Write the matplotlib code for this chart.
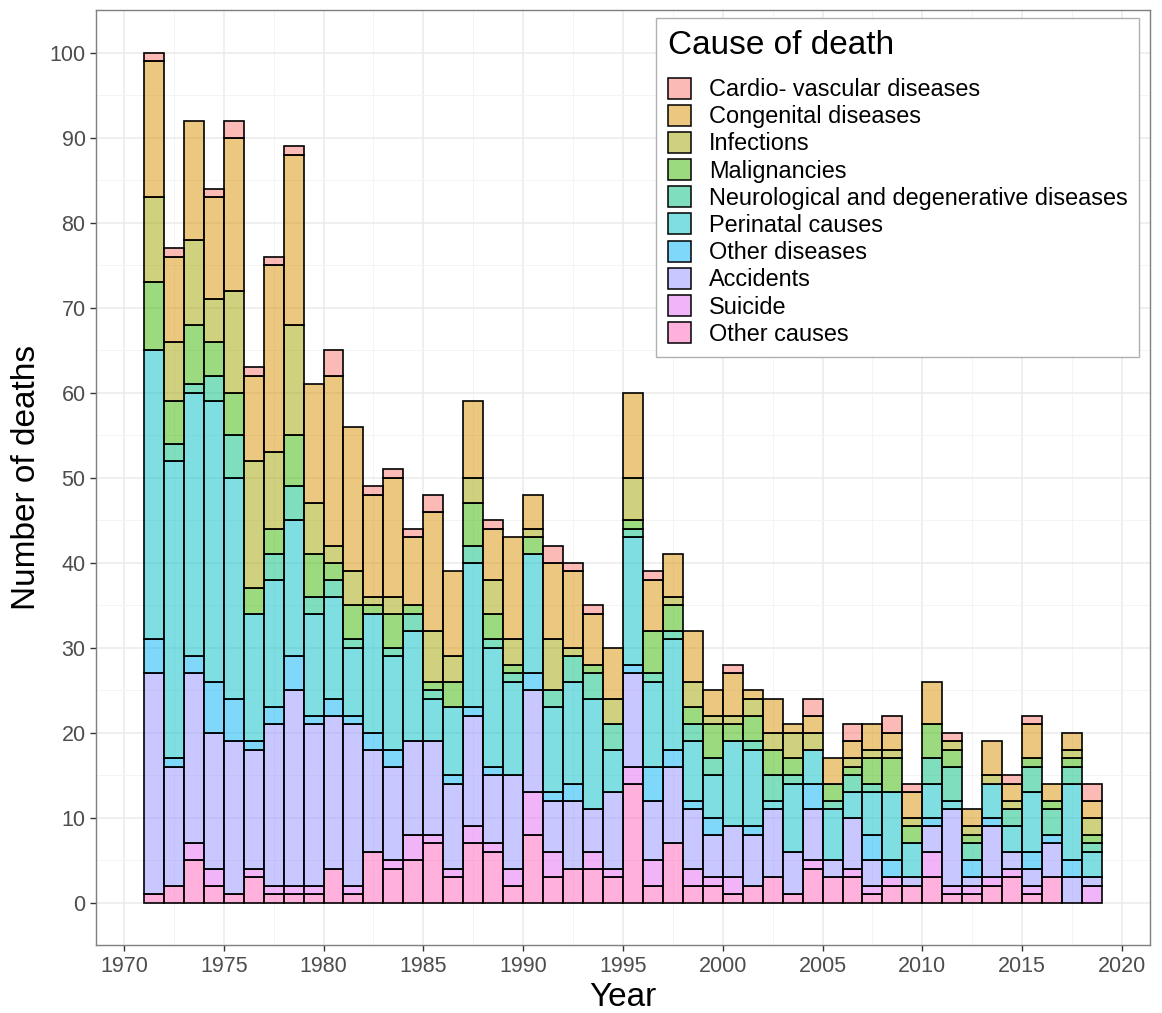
import numpy as np
import matplotlib
matplotlib.use("Agg")
import matplotlib.pyplot as plt
from matplotlib.patches import Patch
from matplotlib.ticker import MultipleLocator

plt.rcParams['font.family'] = ['Liberation Sans', 'DejaVu Sans']

years = list(range(1971, 2019))

causes = ["Cardio- vascular diseases", "Congenital diseases", "Infections", "Malignancies",
          "Neurological and degenerative diseases", "Perinatal causes", "Other diseases",
          "Accidents", "Suicide", "Other causes"]

cardio = [1, 1, 0, 1, 2, 1, 1, 1, 0, 3,
          0, 1, 1, 1, 2, 0, 0, 1, 0, 0,
          2, 1, 1, 0, 0, 1, 0, 0, 0, 1,
          0, 0, 0, 2, 0, 2, 0, 2, 1, 0,
          1, 0, 0, 1, 1, 0, 0, 2]
congenital = [16, 10, 14, 12, 18, 10, 22, 20, 14, 20,
              17, 12, 14, 8, 14, 10, 9, 6, 12, 4,
              9, 9, 6, 6, 10, 6, 5, 6, 3, 5,
              1, 4, 1, 2, 3, 2, 3, 2, 3, 5,
              0, 2, 4, 2, 4, 2, 2, 2]
infections = [10, 7, 10, 5, 12, 15, 9, 13, 6, 2,
              4, 1, 2, 0, 6, 3, 3, 4, 3, 1,
              6, 1, 0, 3, 5, 0, 1, 3, 1, 1,
              2, 2, 3, 2, 0, 1, 1, 1, 1, 0,
              1, 1, 1, 1, 0, 0, 1, 2]
malignancies = [8, 5, 7, 4, 5, 3, 3, 6, 5, 2,
                4, 1, 4, 1, 1, 3, 5, 3, 1, 2,
                0, 0, 1, 0, 1, 5, 3, 2, 4, 2,
                3, 3, 2, 0, 2, 1, 3, 4, 2, 4,
                2, 1, 0, 0, 1, 1, 1, 1]
neuro = [0, 2, 1, 3, 5, 0, 3, 4, 2, 2,
         1, 0, 1, 2, 1, 0, 2, 1, 1, 0,
         2, 3, 3, 3, 1, 1, 1, 2, 2, 0,
         1, 3, 1, 0, 1, 2, 1, 0, 0, 3,
         4, 2, 0, 2, 3, 3, 2, 1]
perinatal = [34, 35, 31, 33, 26, 15, 15, 16, 12, 12,
             8, 14, 11, 13, 5, 8, 17, 14, 11, 14,
             10, 12, 13, 5, 15, 10, 13, 7, 5, 10,
             9, 1, 8, 4, 6, 3, 5, 8, 4, 4,
             1, 0, 4, 3, 7, 0, 9, 3]
other_dis = [4, 1, 2, 6, 5, 1, 2, 4, 1, 2,
             1, 2, 2, 0, 0, 1, 1, 1, 0, 2,
             1, 2, 0, 0, 1, 4, 2, 1, 2, 0,
             1, 0, 0, 3, 0, 0, 3, 2, 0, 1,
             0, 2, 1, 0, 2, 1, 2, 0]
accidents = [26, 14, 20, 16, 18, 14, 19, 23, 19, 18,
             19, 12, 11, 11, 11, 10, 13, 8, 11, 12,
             6, 8, 5, 9, 11, 7, 9, 7, 5, 6,
             6, 8, 5, 6, 2, 6, 3, 0, 1, 3,
             9, 1, 6, 2, 2, 4, 3, 1]
suicide = [0, 0, 2, 2, 0, 1, 1, 1, 1, 0,
           1, 0, 1, 3, 1, 1, 2, 1, 2, 5,
           3, 0, 2, 1, 2, 3, 0, 2, 1, 2,
           0, 0, 0, 1, 0, 1, 1, 1, 0, 3,
           1, 1, 1, 1, 1, 0, 0, 2]
other_causes = [1, 2, 5, 2, 1, 3, 1, 1, 1, 4,
                1, 6, 4, 5, 7, 3, 7, 6, 2, 8,
                3, 4, 4, 3, 14, 2, 7, 2, 2, 1,
                2, 3, 1, 4, 3, 3, 1, 2, 2, 3,
                1, 1, 2, 3, 1, 3, 0, 0]

colors = ["#F8766D", "#D89000", "#A3A500", "#39B600", "#00BF7D",
          "#00BFC4", "#00B0F6", "#9590FF", "#E76BF3", "#FF62BC"]

# stacked from the bottom: other causes first, cardio on top
series = [cardio, congenital, infections, malignancies, neuro,
          perinatal, other_dis, accidents, suicide, other_causes]

fig = plt.figure(figsize=(11.62, 10.13), dpi=100)
ax = fig.add_axes([0.0826, 0.067, 0.907, 0.923])

x = np.array(years)
bottom = np.zeros(len(years))
for vals, col in zip(series[::-1], colors[::-1]):
    v = np.array(vals, dtype=float)
    m = v > 0
    ax.bar(x[m], v[m], width=1.0, align='edge', bottom=bottom[m],
           color=matplotlib.colors.to_rgba(col, 0.5), edgecolor='black', linewidth=1.2, zorder=3)
    bottom += v

ax.set_xlim(1968.6, 2021.4)
ax.set_ylim(-5, 105)
ax.xaxis.set_major_locator(MultipleLocator(5))
ax.xaxis.set_minor_locator(MultipleLocator(2.5))
ax.yaxis.set_major_locator(MultipleLocator(10))
ax.yaxis.set_minor_locator(MultipleLocator(5))
ax.grid(which='major', color='#EBEBEB', linewidth=1.1, zorder=0)
ax.grid(which='minor', color='#F3F3F3', linewidth=0.6, zorder=0)
ax.set_axisbelow(True)
ax.tick_params(which='major', length=4, width=1, color='#333333', labelsize=15.5, labelcolor='#4D4D4D')
ax.tick_params(which='minor', length=0)
for s in ax.spines.values():
    s.set_color('#7F7F7F')
    s.set_linewidth(1.0)

ax.set_xlabel("Year", fontsize=24, labelpad=4)
ax.set_ylabel("Number of deaths", fontsize=24, labelpad=5)

handles = [Patch(facecolor=matplotlib.colors.to_rgba(c, 0.5), edgecolor='black', linewidth=1.1)
           for c in colors]
leg = ax.legend(handles, causes, loc='upper right', bbox_to_anchor=(0.990, 0.9914),
                borderaxespad=0, title="Cause of death", fontsize=16.9, title_fontsize=24,
                handlelength=1.0, handleheight=1.0, labelspacing=0.155,
                handletextpad=0.75, borderpad=0.5, fancybox=False,
                edgecolor='#B0B0B0', framealpha=1, alignment='left')
leg.get_frame().set_linewidth(1.0)
leg._legend_box.sep = 12  # gap between title and entries

fig.savefig("out.png", dpi=100)
